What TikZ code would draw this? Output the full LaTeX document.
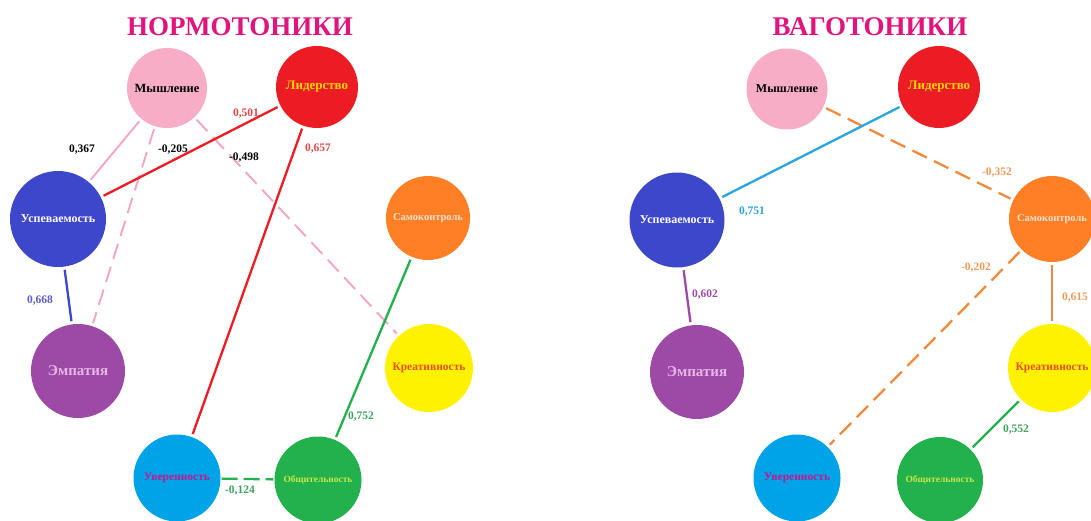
\documentclass[tikz,border=0pt]{standalone}
\usepackage{fontspec}
\setmainfont{Liberation Serif}
\begin{document}
\begin{tikzpicture}[x=1pt,y=-1pt,
  circ/.style={circle,draw=none,inner sep=0pt,font=\bfseries},
  edge/.style={line width=2.3pt,shorten <=3pt,shorten >=3pt},
  dsh/.style={dash pattern=on 16pt off 8pt},
  lbl/.style={font=\bfseries\fontsize{11.5}{13}\selectfont,inner sep=0pt},
  ttl/.style={font=\bfseries\fontsize{27}{30}\selectfont,text=titlec}
]
\definecolor{titlec}{HTML}{E0147C}
\definecolor{pinkc}{HTML}{F7ADC6}
\definecolor{pinkl}{HTML}{F4A6C0}
\definecolor{redc}{HTML}{EC1C24}
\definecolor{yelt}{HTML}{FFD400}
\definecolor{bluec}{HTML}{3D47C9}
\definecolor{purpc}{HTML}{9C4AA6}
\definecolor{purpt}{HTML}{E8B6E6}
\definecolor{cyanc}{HTML}{00A2E8}
\definecolor{magt}{HTML}{C4188F}
\definecolor{greenc}{HTML}{22B14C}
\definecolor{greent}{HTML}{C8E84A}
\definecolor{yelc}{HTML}{FFF200}
\definecolor{oranget}{HTML}{E8501A}
\definecolor{orangec}{HTML}{FF7F27}
\definecolor{orangel}{HTML}{F7E1CF}
\definecolor{redl}{HTML}{E04848}
\definecolor{bluel}{HTML}{5A5FC8}
\definecolor{greenl}{HTML}{3DA35E}
\definecolor{orangelbl}{HTML}{F09A5A}
\definecolor{cyanl}{HTML}{2AA5DC}
\definecolor{linecyan}{HTML}{29A6DE}
\definecolor{lineorange}{HTML}{F28A3C}
\useasboundingbox (0,0) rectangle (1091,520);
\fill[white] (0,0) rectangle (1091,520);

% titles
\node[ttl] (t1) at (240,27) {НОРМОТОНИКИ};
\node[ttl] (t2) at (870,27) {ВАГОТОНИКИ};

% ---------- left ----------
\node[circ,fill=pinkc,minimum size=80pt,text=black,font=\bfseries\fontsize{12.5}{14}\selectfont] (m1) at (167,88) {Мышление};
\node[circ,fill=redc,minimum size=82pt,text=yelt,font=\bfseries\fontsize{13}{15}\selectfont] (l1) at (317,87) {Лидерство};
\node[circ,fill=bluec,minimum size=96pt,text=white,font=\bfseries\fontsize{12}{14}\selectfont] (u1) at (58,219) {Успеваемость};
\node[circ,fill=purpc,minimum size=94pt,text=purpt,font=\bfseries\fontsize{15}{17}\selectfont] (e1) at (78,371) {Эмпатия};
\node[circ,fill=cyanc,minimum size=87pt,text=magt,font=\bfseries\fontsize{11.5}{14}\selectfont] (v1) at (177,478) {Уверенность};
\node[circ,fill=greenc,minimum size=87pt,text=greent,font=\bfseries\fontsize{9.5}{11}\selectfont] (o1) at (318,480) {Общительность};
\node[circ,fill=yelc,minimum size=88pt,text=oranget,font=\bfseries\fontsize{11.5}{14}\selectfont] (k1) at (429,368) {Креативность};
\node[circ,fill=orangec,minimum size=84pt,text=orangel,font=\bfseries\fontsize{10.5}{12}\selectfont] (s1) at (428,218) {Самоконтроль};

% ---------- right ----------
\node[circ,fill=pinkc,minimum size=81pt,text=black,font=\bfseries\fontsize{12}{14}\selectfont] (m2) at (787,89) {Мышление};
\node[circ,fill=redc,minimum size=82pt,text=yelt,font=\bfseries\fontsize{13}{15}\selectfont] (l2) at (939,87) {Лидерство};
\node[circ,fill=bluec,minimum size=95pt,text=white,font=\bfseries\fontsize{12}{14}\selectfont] (u2) at (677,220) {Успеваемость};
\node[circ,fill=purpc,minimum size=94pt,text=purpt,font=\bfseries\fontsize{15}{17}\selectfont] (e2) at (697,372) {Эмпатия};
\node[circ,fill=cyanc,minimum size=87pt,text=magt,font=\bfseries\fontsize{11.5}{14}\selectfont] (v2) at (797,478) {Уверенность};
\node[circ,fill=greenc,minimum size=86pt,text=greent,font=\bfseries\fontsize{9.5}{11}\selectfont] (o2) at (940,480) {Общительность};
\node[circ,fill=yelc,minimum size=88pt,text=oranget,font=\bfseries\fontsize{11.5}{14}\selectfont] (k2) at (1052,368) {Креативность};
\node[circ,fill=orangec,minimum size=86pt,text=orangel,font=\bfseries\fontsize{10.5}{12}\selectfont] (s2) at (1052,219) {Самоконтроль};

% ---------- left edges ----------
\draw[edge,pinkl,line width=1.9pt] (m1) -- (u1);
\draw[edge,pinkl,dsh,line width=1.9pt] (m1) -- (e1);
\draw[edge,pinkl,dsh,line width=1.9pt] (m1) -- (k1);
\draw[edge,redc] (l1) -- (u1);
\draw[edge,redc] (l1) -- (v1);
\draw[edge,bluec] (u1) -- (e1);
\draw[edge,greenc] (s1) -- (o1);
\draw[edge,greenc,shorten <=1pt,shorten >=1pt,dash pattern=on 16pt off 6pt] (v1) -- (o1);

\node[lbl,text=black] (n1) at (82,150) {0,367};
\node[lbl,text=black] (n2) at (173,150) {-0,205};
\node[lbl,text=black] (n3) at (244,158) {-0,498};
\node[lbl,text=redl] (n4) at (246,114) {0,501};
\node[lbl,text=redl] (n5) at (318,149) {0,657};
\node[lbl,text=bluel] (n6) at (40,301) {0,668};
\node[lbl,text=greenl] (n7) at (361,417) {0,752};
\node[lbl,text=greenl] (n8) at (240,491) {-0,124};

% ---------- right edges ----------
\draw[edge,lineorange,dsh] (m2) -- (s2);
\draw[edge,linecyan] (l2) -- (u2);
\draw[edge,purpc] (u2) -- (e2);
\draw[edge,lineorange,dsh] (s2) -- (v2);
\draw[edge,lineorange] (s2) -- (k2);
\draw[edge,greenc] (k2) -- (o2);

\node[lbl,text=orangelbl] (r1) at (997,173) {-0,352};
\node[lbl,text=cyanl] (r2) at (752,212) {0,751};
\node[lbl,text=purpc] (r3) at (705,295) {0,602};
\node[lbl,text=orangelbl] (r4) at (976,268) {-0,202};
\node[lbl,text=orangelbl] (r5) at (1075,298) {0,615};
\node[lbl,text=greenl] (r6) at (1016,430) {0,552};
\end{tikzpicture}
\end{document}
